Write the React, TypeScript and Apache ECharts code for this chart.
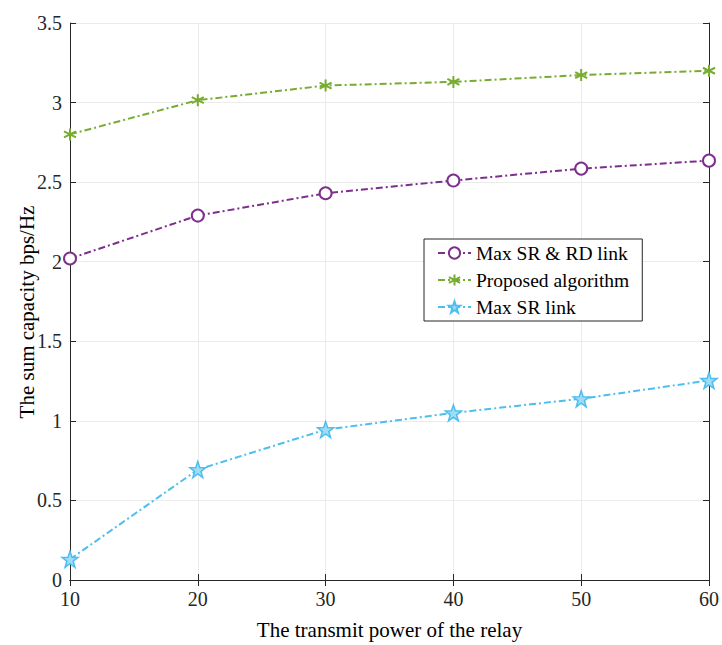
import React, { useEffect, useRef } from "react";
import * as echarts from "echarts";

const xValues = [10, 20, 30, 40, 50, 60];
const seriesNames = ["Max SR & RD link", "Proposed algorithm", "Max SR link"];
const maxSrRd = [2.02, 2.29, 2.43, 2.51, 2.585, 2.635];
const proposed = [2.8, 3.015, 3.107, 3.13, 3.173, 3.2];
const maxSr = [0.13, 0.694, 0.945, 1.05, 1.139, 1.254];
const yTicks = [0, 0.5, 1, 1.5, 2, 2.5, 3, 3.5];
const xTitle = "The transmit power of the relay";
const yTitle = "The sum capacity bps/Hz";

const FONT = "'Liberation Serif', 'DejaVu Serif', serif";
const AX = "#262626";

const asterisk = "path://M0,-10L0,10M-9,-5L9,5M-9,5L9,-5";
const star =
  "path://M0,-10L2.35,-3.24L9.51,-3.09L3.80,1.24L5.88,8.09L0,4L-5.88,8.09L-3.80,1.24L-9.51,-3.09L-2.35,-3.24Z";

export default function App() {
  const ref = useRef<HTMLDivElement>(null);
  useEffect(() => {
    const chart = echarts.init(ref.current!, null, { renderer: "svg" });
    const pair = (ys: number[]) => xValues.map((x, i) => [x, ys[i]]);
    const dash = [7, 3, 2, 3];
    const axisCommon = {
      type: "value",
      axisLine: { show: true, lineStyle: { color: AX, width: 1 } },
      axisTick: { show: true, inside: true, length: 6, lineStyle: { color: AX } },
    };
    chart.setOption({
      animation: false,
      backgroundColor: "#fff",
      textStyle: { fontFamily: FONT },
      grid: { left: 70, right: 10, top: 23, bottom: 59, containLabel: false },
      legend: {
        orient: "vertical",
        left: 424,
        top: 239,
        backgroundColor: "#fff",
        borderColor: AX,
        borderWidth: 1,
        borderRadius: 0,
        padding: [4, 13, 4, 13],
        itemGap: 7,
        itemWidth: 33,
        itemHeight: 14,
        textStyle: { fontFamily: FONT, fontSize: 19.5, color: "#000" },
        data: seriesNames,
      },
      graphic: [
        {
          type: "text",
          x: 27,
          y: 312,
          rotation: Math.PI / 2,
          style: {
            text: yTitle,
            fontFamily: FONT,
            fontSize: 21,
            fill: "#000",
            textAlign: "center",
            textVerticalAlign: "middle",
          },
        },
      ],
      xAxis: [
        {
          ...axisCommon,
          min: 10,
          max: 60,
          interval: 10,
          position: "bottom",
          name: xTitle,
          nameLocation: "middle",
          nameGap: 39,
          nameTextStyle: { fontFamily: FONT, fontSize: 21, color: "#000" },
          axisLabel: { fontFamily: FONT, fontSize: 20, color: "#262626", margin: 9 },
          splitLine: { show: true, lineStyle: { color: "#ebebeb", width: 1 } },
        },
        {
          ...axisCommon,
          min: 10,
          max: 60,
          interval: 10,
          position: "top",
          axisLabel: { show: false },
          splitLine: { show: false },
        },
      ],
      yAxis: [
        {
          ...axisCommon,
          min: 0,
          max: 3.5,
          interval: 0.5,
          position: "left",
          axisLabel: {
            fontFamily: FONT,
            fontSize: 20,
            color: "#262626",
            margin: 8,
            formatter: (v: number) => (yTicks.includes(v) ? String(v) : ""),
          },
          splitLine: { show: true, lineStyle: { color: "#ebebeb", width: 1 } },
        },
        {
          ...axisCommon,
          min: 0,
          max: 3.5,
          interval: 0.5,
          position: "right",
          axisLabel: { show: false },
          splitLine: { show: false },
        },
      ],
      series: [
        {
          name: seriesNames[0],
          type: "line",
          data: pair(maxSrRd),
          symbol: "emptyCircle",
          symbolSize: 12,
          showAllSymbol: true,
          itemStyle: { color: "#7E2F8E", borderWidth: 1.8 },
          lineStyle: { color: "#7E2F8E", width: 2, type: dash },
          z: 3,
        },
        {
          name: seriesNames[1],
          type: "line",
          data: pair(proposed),
          symbol: asterisk,
          symbolSize: 12,
          itemStyle: { color: "#77AC30", borderColor: "#77AC30", borderWidth: 2 },
          lineStyle: { color: "#77AC30", width: 2, type: dash },
          z: 3,
        },
        {
          name: seriesNames[2],
          type: "line",
          data: pair(maxSr),
          symbol: star,
          symbolSize: 16,
          itemStyle: { color: "#9fdcf5", borderColor: "#4DBEEE", borderWidth: 1.5 },
          lineStyle: { color: "#4DBEEE", width: 2, type: dash },
          z: 3,
        },
      ],
    });
    return () => chart.dispose();
  }, []);
  return (
    <div
      ref={ref}
      style={{ position: "fixed", left: 0, top: 0, width: 722, height: 645 }}
    />
  );
}
